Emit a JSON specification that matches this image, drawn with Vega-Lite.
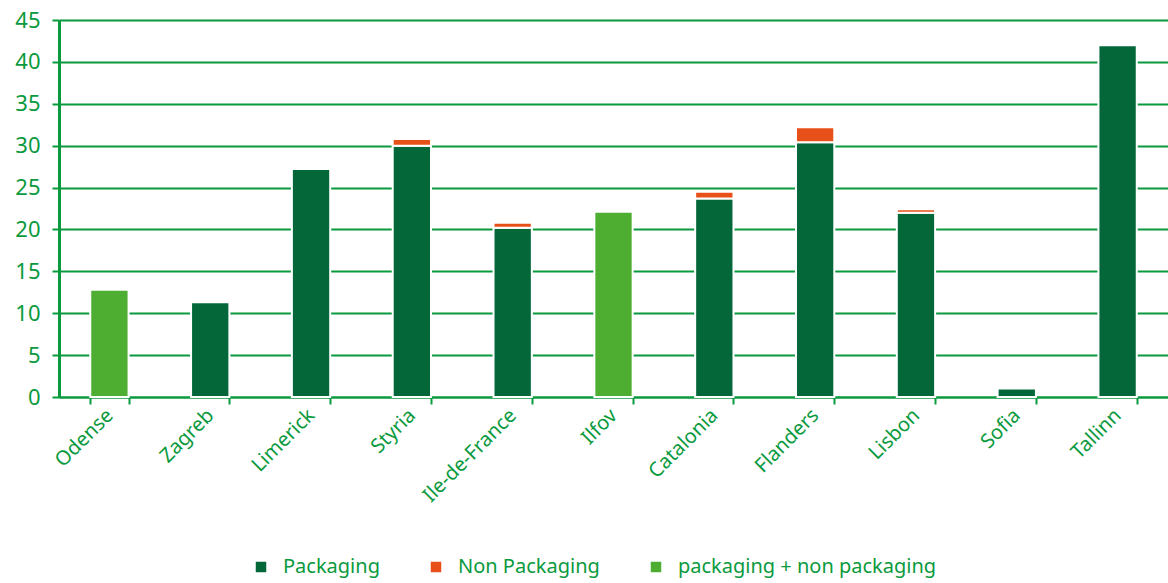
{
  "$schema": "https://vega.github.io/schema/vega-lite/v6.json",
  "autosize": "none",
  "width": 1109,
  "height": 377,
  "padding": {"left": 59, "top": 20, "right": 0, "bottom": 186},
  "background": "white",
  "config": {
    "view": {"stroke": null},
    "font": "Noto Sans"
  },
  "data": {
    "values": [
      {"city": "Odense", "type": "packaging + non packaging", "value": 12.8},
      {"city": "Zagreb", "type": "Packaging", "value": 11.3},
      {"city": "Limerick", "type": "Packaging", "value": 27.2},
      {"city": "Styria", "type": "Packaging", "value": 30.0},
      {"city": "Styria", "type": "Non Packaging", "value": 0.8},
      {"city": "Ile-de-France", "type": "Packaging", "value": 20.2},
      {"city": "Ile-de-France", "type": "Non Packaging", "value": 0.6},
      {"city": "Ilfov", "type": "packaging + non packaging", "value": 22.1},
      {"city": "Catalonia", "type": "Packaging", "value": 23.7},
      {"city": "Catalonia", "type": "Non Packaging", "value": 0.8},
      {"city": "Flanders", "type": "Packaging", "value": 30.4},
      {"city": "Flanders", "type": "Non Packaging", "value": 1.8},
      {"city": "Lisbon", "type": "Packaging", "value": 22.0},
      {"city": "Lisbon", "type": "Non Packaging", "value": 0.4},
      {"city": "Sofia", "type": "Packaging", "value": 1.0},
      {"city": "Tallinn", "type": "Packaging", "value": 42.0}
    ]
  },
  "mark": {"type": "bar", "stroke": "white", "strokeWidth": 2},
  "encoding": {
    "x": {
      "field": "city",
      "type": "nominal",
      "sort": ["Odense", "Zagreb", "Limerick", "Styria", "Ile-de-France", "Ilfov", "Catalonia", "Flanders", "Lisbon", "Sofia", "Tallinn"],
      "scale": {"paddingInner": 0.62, "paddingOuter": 0.31},
      "axis": {
        "title": null,
        "labelAngle": -45,
        "labelAlign": "right",
        "labelBaseline": "middle",
        "labelFontSize": 20,
        "labelColor": "#0A9A3E",
        "labelPadding": 8,
        "labelLimit": 300,
        "tickBand": "extent",
        "tickColor": "#0A9A3E",
        "tickWidth": 2,
        "tickSize": 7,
        "domainColor": "#0A9A3E",
        "domainWidth": 2,
        "grid": false
      }
    },
    "y": {
      "field": "value",
      "type": "quantitative",
      "stack": "zero",
      "scale": {"domain": [0, 45], "nice": false},
      "axis": {
        "title": null,
        "values": [0, 5, 10, 15, 20, 25, 30, 35, 40, 45],
        "labelFontSize": 22,
        "labelColor": "#0A9A3E",
        "labelPadding": 12,
        "tickColor": "#0A9A3E",
        "tickWidth": 2,
        "tickSize": 7,
        "domainColor": "#0A9A3E",
        "domainWidth": 3,
        "grid": true,
        "gridColor": "#0A9A3E",
        "gridWidth": 2
      }
    },
    "color": {
      "field": "type",
      "type": "nominal",
      "scale": {
        "domain": ["Packaging", "Non Packaging", "packaging + non packaging"],
        "range": ["#03673A", "#E8501A", "#4DAE32"]
      },
      "legend": {
        "title": null,
        "orient": "none",
        "direction": "horizontal",
        "legendX": 192,
        "legendY": 537,
        "symbolType": "square",
        "symbolSize": 110,
        "symbolStrokeWidth": 0,
        "labelFontSize": 20,
        "labelColor": "#0A9A3E",
        "labelOffset": 12,
        "labelLimit": 400,
        "columnPadding": 46
      }
    },
    "order": {"field": "type", "sort": "descending"}
  }
}
